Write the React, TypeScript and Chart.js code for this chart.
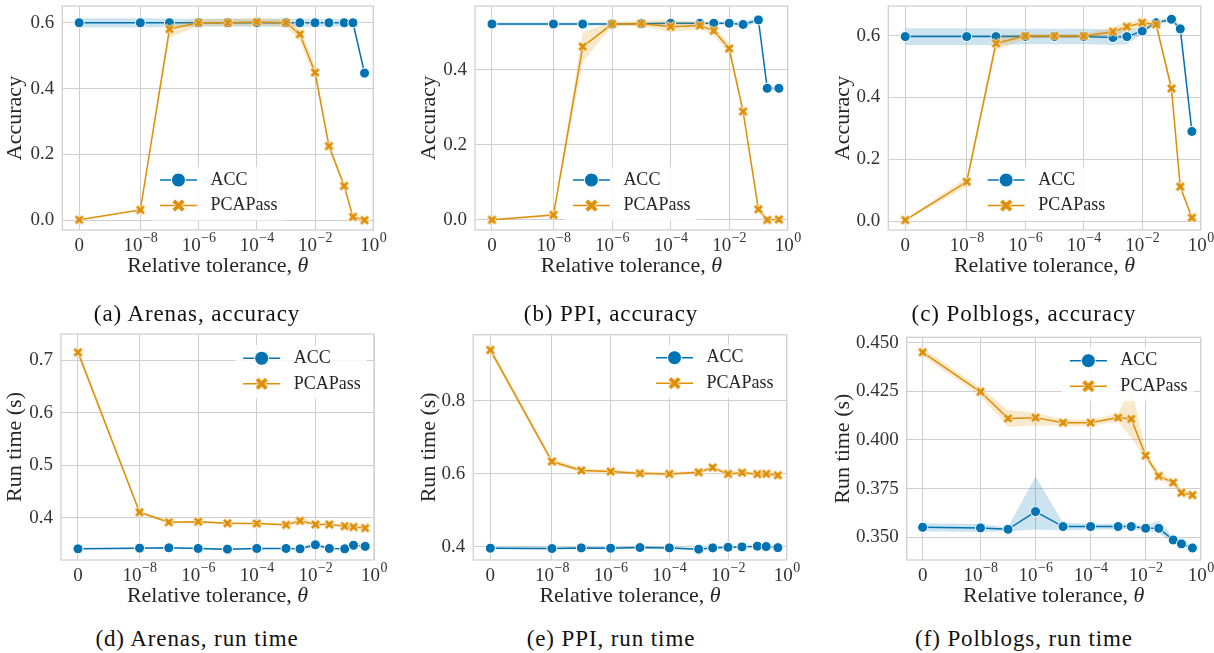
import React, { useEffect, useRef } from 'react';
import { Chart, registerables } from 'chart.js';

Chart.register(...registerables);

const FONT = "'Liberation Serif', 'Times New Roman', serif";
const BLUE = '#0173b2';
const ORANGE = '#de8f05';
const BLUE_BAND = 'rgba(1,115,178,0.2)';
const ORANGE_BAND = 'rgba(222,143,5,0.2)';
const GRID = '#cfcfcf';
const TEXT = '#333333';

// ---- categories (relative tolerance) and tick labels ----
const thetas = [0, 1e-8, 1e-7, 1e-6, 1e-5, 1e-4, 1e-3, 3e-3, 1e-2, 3e-2, 1e-1, 2e-1, 5e-1];
const zeroPosition = -10.1; // where "0" sits on the log axis
const xTickValues = [0, 1e-8, 1e-6, 1e-4, 1e-2, 1];
const xTickBase = ['0', '10', '10', '10', '10', '10'];
const xTickExp = ['', '−8', '−6', '−4', '−2', '0'];
const xTitleText = 'Relative tolerance, ';
const xTitleSymbol = 'θ';
const seriesNames = ['ACC', 'PCAPass'];

// ---- (a) Arenas, accuracy ----
const accA = [0.600, 0.600, 0.600, 0.600, 0.600, 0.600, 0.600, 0.600, 0.600, 0.600, 0.600, 0.600, 0.447];
const accALo = [0.586, 0.586, 0.587, 0.588, 0.588, 0.588, 0.588, 0.588, 0.588, 0.588, 0.589, 0.590, 0.444];
const accAHi = [0.614, 0.614, 0.613, 0.612, 0.612, 0.612, 0.612, 0.612, 0.612, 0.612, 0.611, 0.610, 0.450];
const pcaA = [0.001, 0.031, 0.581, 0.600, 0.600, 0.602, 0.600, 0.565, 0.449, 0.225, 0.104, 0.010, 0.000];
const pcaALo = [0.000, 0.028, 0.555, 0.590, 0.590, 0.590, 0.589, 0.545, 0.430, 0.215, 0.098, 0.006, 0.000];
const pcaAHi = [0.002, 0.034, 0.595, 0.611, 0.613, 0.614, 0.612, 0.585, 0.468, 0.236, 0.110, 0.014, 0.001];
const yTicksA = ['0.0', '0.2', '0.4', '0.6'];

// ---- (b) PPI, accuracy ----
const accB = [0.521, 0.521, 0.521, 0.521, 0.522, 0.523, 0.523, 0.523, 0.523, 0.520, 0.532, 0.350, 0.350];
const accBLo = [0.517, 0.517, 0.517, 0.517, 0.518, 0.519, 0.519, 0.519, 0.518, 0.512, 0.526, 0.347, 0.347];
const accBHi = [0.525, 0.525, 0.525, 0.525, 0.526, 0.527, 0.527, 0.527, 0.528, 0.528, 0.538, 0.353, 0.353];
const pcaB = [0.000, 0.013, 0.461, 0.521, 0.522, 0.514, 0.517, 0.503, 0.456, 0.288, 0.028, 0.000, 0.001];
const pcaBLo = [0.000, 0.011, 0.420, 0.515, 0.515, 0.500, 0.508, 0.490, 0.442, 0.280, 0.024, 0.000, 0.000];
const pcaBHi = [0.001, 0.016, 0.500, 0.527, 0.530, 0.532, 0.526, 0.516, 0.470, 0.296, 0.032, 0.001, 0.002];
const yTicksB = ['0.0', '0.2', '0.4'];

// ---- (c) Polblogs, accuracy ----
const accC = [0.597, 0.597, 0.597, 0.597, 0.597, 0.597, 0.594, 0.597, 0.615, 0.642, 0.653, 0.622, 0.290];
const accCLo = [0.570, 0.570, 0.570, 0.572, 0.572, 0.572, 0.570, 0.572, 0.605, 0.633, 0.645, 0.612, 0.285];
const accCHi = [0.624, 0.624, 0.624, 0.622, 0.622, 0.622, 0.620, 0.622, 0.625, 0.651, 0.661, 0.632, 0.295];
const pcaC = [0.003, 0.127, 0.575, 0.599, 0.599, 0.599, 0.613, 0.629, 0.642, 0.636, 0.429, 0.111, 0.011];
const pcaCLo = [0.000, 0.112, 0.552, 0.590, 0.592, 0.592, 0.600, 0.615, 0.630, 0.626, 0.414, 0.103, 0.006];
const pcaCHi = [0.006, 0.142, 0.597, 0.607, 0.606, 0.606, 0.627, 0.643, 0.654, 0.646, 0.444, 0.120, 0.016];
const yTicksC = ['0.0', '0.2', '0.4', '0.6'];

// ---- (d) Arenas, run time ----
const accD = [0.3403, 0.3416, 0.3422, 0.3410, 0.3397, 0.3410, 0.3410, 0.3403, 0.3480, 0.3410, 0.3403, 0.3470, 0.3450];
const accDLo = [0.3388, 0.3401, 0.3407, 0.3395, 0.3382, 0.3395, 0.3395, 0.3388, 0.3420, 0.3395, 0.3388, 0.3430, 0.3435];
const accDHi = [0.3418, 0.3431, 0.3437, 0.3425, 0.3412, 0.3425, 0.3425, 0.3418, 0.3550, 0.3425, 0.3418, 0.3510, 0.3465];
const pcaD = [0.715, 0.410, 0.391, 0.392, 0.389, 0.3886, 0.386, 0.3937, 0.3867, 0.3867, 0.3835, 0.382, 0.380];
const pcaDLo = [0.707, 0.407, 0.389, 0.390, 0.387, 0.3866, 0.384, 0.387, 0.3847, 0.3850, 0.3820, 0.3805, 0.3785];
const pcaDHi = [0.723, 0.413, 0.393, 0.394, 0.391, 0.3906, 0.388, 0.401, 0.3887, 0.3884, 0.3850, 0.3835, 0.3815];
const yTicksD = ['0.4', '0.5', '0.6', '0.7'];

// ---- (e) PPI, run time ----
const accE = [0.3954, 0.3945, 0.3963, 0.3954, 0.3973, 0.3963, 0.3927, 0.3963, 0.3980, 0.3990, 0.4010, 0.4000, 0.3970];
const accELo = [0.3924, 0.3915, 0.3933, 0.3924, 0.3943, 0.3933, 0.3897, 0.3933, 0.3950, 0.3960, 0.3980, 0.3970, 0.3940];
const accEHi = [0.3984, 0.3975, 0.3993, 0.3984, 0.4003, 0.3993, 0.3957, 0.3993, 0.4010, 0.4020, 0.4040, 0.4030, 0.4000];
const pcaE = [0.940, 0.6335, 0.609, 0.606, 0.601, 0.5996, 0.604, 0.617, 0.5996, 0.603, 0.599, 0.5996, 0.596];
const pcaELo = [0.930, 0.6255, 0.603, 0.601, 0.596, 0.5946, 0.599, 0.610, 0.5946, 0.598, 0.594, 0.5946, 0.591];
const pcaEHi = [0.950, 0.6415, 0.615, 0.611, 0.606, 0.6046, 0.609, 0.624, 0.6046, 0.608, 0.604, 0.6046, 0.601];
const yTicksE = ['0.4', '0.6', '0.8'];

// ---- (f) Polblogs, run time ----
const accF = [0.3551, 0.3548, 0.3541, 0.3632, 0.3555, 0.3555, 0.3555, 0.3555, 0.3546, 0.3546, 0.3486, 0.3466, 0.3445];
const accFLo = [0.3530, 0.3528, 0.3530, 0.3540, 0.3535, 0.3540, 0.3540, 0.3540, 0.3532, 0.3520, 0.3472, 0.3452, 0.3432];
const accFHi = [0.3572, 0.3568, 0.3552, 0.3812, 0.3575, 0.3570, 0.3570, 0.3570, 0.3560, 0.3585, 0.3500, 0.3480, 0.3458];
const pcaF = [0.4451, 0.4248, 0.4111, 0.4115, 0.4089, 0.4089, 0.4115, 0.4108, 0.3920, 0.3815, 0.3781, 0.3729, 0.3717];
const pcaFLo = [0.4430, 0.4225, 0.4068, 0.4075, 0.4072, 0.4072, 0.4095, 0.4010, 0.3900, 0.3795, 0.3765, 0.3712, 0.3702];
const pcaFHi = [0.4472, 0.4270, 0.4154, 0.4140, 0.4106, 0.4106, 0.4135, 0.4280, 0.3940, 0.3835, 0.3797, 0.3746, 0.3732];
const yTicksF = ['0.350', '0.375', '0.400', '0.425', '0.450'];

const toX = (t: number) => (t === 0 ? zeroPosition : Math.log10(t));
const pts = (vals: number[]) => vals.map((v, i) => ({ x: toX(thetas[i]), y: v }));

function makeXMarker(size: number, color: string): HTMLCanvasElement {
  const c = document.createElement('canvas');
  c.width = size;
  c.height = size;
  const ctx = c.getContext('2d') as CanvasRenderingContext2D;
  const s = size / 2;
  const a = s * 0.82;
  const w = s * 0.27;
  ctx.translate(s, s);
  ctx.rotate(Math.PI / 4);
  ctx.beginPath();
  ctx.moveTo(-w, -a); ctx.lineTo(w, -a); ctx.lineTo(w, -w); ctx.lineTo(a, -w);
  ctx.lineTo(a, w); ctx.lineTo(w, w); ctx.lineTo(w, a); ctx.lineTo(-w, a);
  ctx.lineTo(-w, w); ctx.lineTo(-a, w); ctx.lineTo(-a, -w); ctx.lineTo(-w, -w);
  ctx.closePath();
  ctx.fillStyle = color;
  ctx.fill();
  ctx.strokeStyle = '#ffffff';
  ctx.lineWidth = 0.8;
  ctx.stroke();
  return c;
}

type Panel = {
  acc: number[]; accLo: number[]; accHi: number[];
  pca: number[]; pcaLo: number[]; pcaHi: number[];
  yTicks: string[]; yMin: number; yMax: number; yTitle: string;
  L: number; T: number; R: number; B: number; yTitleX: number;
  legendFx: number; legendFy: number;
  caption: string; capX: number; capY: number;
};

const X_MIN = -10.68;
const X_MAX = 0;

const panels: Panel[] = [
  { acc: accA, accLo: accALo, accHi: accAHi, pca: pcaA, pcaLo: pcaALo, pcaHi: pcaAHi,
    yTicks: yTicksA, yMin: -0.030, yMax: 0.651, yTitle: 'Accuracy',
    L: 62.3, T: 6, R: 373.3, B: 230, yTitleX: 15.5, legendFx: 0.314, legendFy: 0.777,
    caption: '(a) Arenas, accuracy', capX: 197, capY: 314 },
  { acc: accB, accLo: accBLo, accHi: accBHi, pca: pcaB, pcaLo: pcaBLo, pcaHi: pcaBHi,
    yTicks: yTicksB, yMin: -0.027, yMax: 0.569, yTitle: 'Accuracy',
    L: 475, T: 6, R: 787.7, B: 230, yTitleX: 429, legendFx: 0.313, legendFy: 0.777,
    caption: '(b) PPI, accuracy', capX: 611, capY: 314 },
  { acc: accC, accLo: accCLo, accHi: accCHi, pca: pcaC, pcaLo: pcaCLo, pcaHi: pcaCHi,
    yTicks: yTicksC, yMin: -0.029, yMax: 0.696, yTitle: 'Accuracy',
    L: 888.3, T: 6, R: 1200.7, B: 230, yTitleX: 843, legendFx: 0.318, legendFy: 0.777,
    caption: '(c) Polblogs, accuracy', capX: 1024, capY: 314 },
  { acc: accD, accLo: accDLo, accHi: accDHi, pca: pcaD, pcaLo: pcaDLo, pcaHi: pcaDHi,
    yTicks: yTicksD, yMin: 0.319, yMax: 0.750, yTitle: 'Run time (s)',
    L: 61, T: 334, R: 374, B: 560, yTitleX: 15.5, legendFx: 0.582, legendFy: 0.1075,
    caption: '(d) Arenas, run time', capX: 197, capY: 639 },
  { acc: accE, accLo: accELo, accHi: accEHi, pca: pcaE, pcaLo: pcaELo, pcaHi: pcaEHi,
    yTicks: yTicksE, yMin: 0.363, yMax: 0.982, yTitle: 'Run time (s)',
    L: 473.3, T: 334.7, R: 786.7, B: 560, yTitleX: 429, legendFx: 0.583, legendFy: 0.102,
    caption: '(e) PPI, run time', capX: 611, capY: 639 },
  { acc: accF, accLo: accFLo, accHi: accFHi, pca: pcaF, pcaLo: pcaFLo, pcaHi: pcaFHi,
    yTicks: yTicksF, yMin: 0.3383, yMax: 0.4528, yTitle: 'Run time (s)',
    L: 906.7, T: 337.3, R: 1200.7, B: 560, yTitleX: 843, legendFx: 0.555, legendFy: 0.105,
    caption: '(f) Polblogs, run time', capX: 1024, capY: 639 },
];

const TITLE_SIZE = 22;
const TICK_SIZE = 19;
const EXP_SIZE = 14;
const LEGEND_SIZE = 18;
const TITLE_HALF = (TITLE_SIZE * 1.2) / 2;
const X_TITLE_OFFSET = 36; // distance from plot bottom to x-title middle
const X_LABEL_OFFSET = 16; // distance from plot bottom to tick-label middle

function PanelChart({ p }: { p: Panel }) {
  const ref = useRef<HTMLCanvasElement>(null);
  const cl = Math.round(p.yTitleX - TITLE_HALF);
  const ct = Math.round(p.T) - 24;
  const cr = Math.round(p.R) + 24;
  const cb = Math.round(p.B + X_TITLE_OFFSET + TITLE_HALF);
  const w = cr - cl;
  const h = cb - ct;

  useEffect(() => {
    const canvas = ref.current;
    if (!canvas) return;
    const xMarker = makeXMarker(13, ORANGE);
    const xMarkerLegend = makeXMarker(17, ORANGE);
    const yVals = p.yTicks.map((s) => parseFloat(s));

    const framePlugin = {
      id: 'frame',
      beforeDatasetsDraw(chart: any) {
        const { ctx, chartArea: a } = chart;
        ctx.save();
        ctx.strokeStyle = GRID;
        ctx.lineWidth = 1.25;
        ctx.strokeRect(a.left, a.top, a.right - a.left, a.bottom - a.top);
        ctx.restore();
      },
    };

    // x tick labels with raised exponents, and x title with italic theta
    const xLabelPlugin = {
      id: 'xLabels',
      afterDraw(chart: any) {
        const { ctx, chartArea: a, scales } = chart;
        const xs = scales.x;
        ctx.save();
        ctx.textBaseline = 'middle';
        ctx.textAlign = 'left';
        ctx.fillStyle = TEXT;
        const y = a.bottom + X_LABEL_OFFSET;
        xTickValues.forEach((v, i) => {
          const px = xs.getPixelForValue(toX(v));
          const base = xTickBase[i];
          const exp = xTickExp[i];
          ctx.font = `${TICK_SIZE}px ${FONT}`;
          const bw = ctx.measureText(base).width;
          ctx.font = `${EXP_SIZE}px ${FONT}`;
          const ew = exp ? ctx.measureText(exp).width : 0;
          const x0 = px - (bw + ew) / 2;
          ctx.font = `${TICK_SIZE}px ${FONT}`;
          ctx.fillText(base, x0, y);
          if (exp) {
            ctx.font = `${EXP_SIZE}px ${FONT}`;
            ctx.fillText(exp, x0 + bw + 0.5, y - 7.5);
          }
        });
        // title
        ctx.fillStyle = '#262626';
        const ty = a.bottom + X_TITLE_OFFSET;
        ctx.font = `${TITLE_SIZE}px ${FONT}`;
        const w1 = ctx.measureText(xTitleText).width;
        ctx.font = `italic ${TITLE_SIZE}px ${FONT}`;
        const w2 = ctx.measureText(xTitleSymbol).width;
        const tx = (a.left + a.right) / 2 - (w1 + w2) / 2;
        ctx.font = `${TITLE_SIZE}px ${FONT}`;
        ctx.fillText(xTitleText, tx, ty);
        ctx.font = `italic ${TITLE_SIZE}px ${FONT}`;
        ctx.fillText(xTitleSymbol, tx + w1, ty);
        ctx.restore();
      },
    };

    const legendPlugin = {
      id: 'panelLegend',
      afterDraw(chart: any) {
        const { ctx, chartArea: a } = chart;
        const sx = a.left + p.legendFx * (a.right - a.left);
        const y1 = a.top + p.legendFy * (a.bottom - a.top);
        const gap = 25.5;
        ctx.save();
        ctx.font = `${LEGEND_SIZE}px ${FONT}`;
        const tw = Math.max(...seriesNames.map((n) => ctx.measureText(n).width));
        ctx.fillStyle = 'rgba(255,255,255,0.85)';
        ctx.fillRect(sx - 8, y1 - 13, 50.5 + tw + 14, gap + 28);
        seriesNames.forEach((name, i) => {
          const y = y1 + i * gap;
          const color = i === 0 ? BLUE : ORANGE;
          ctx.strokeStyle = color;
          ctx.lineWidth = 1.5;
          ctx.beginPath();
          ctx.moveTo(sx, y);
          ctx.lineTo(sx + 37, y);
          ctx.stroke();
          if (i === 0) {
            ctx.beginPath();
            ctx.arc(sx + 18.5, y, 7, 0, Math.PI * 2);
            ctx.fillStyle = BLUE;
            ctx.fill();
            ctx.strokeStyle = '#ffffff';
            ctx.lineWidth = 1;
            ctx.stroke();
          } else {
            ctx.drawImage(xMarkerLegend, sx + 18.5 - xMarkerLegend.width / 2, y - xMarkerLegend.height / 2);
          }
          ctx.fillStyle = '#262626';
          ctx.textBaseline = 'middle';
          ctx.textAlign = 'left';
          ctx.fillText(name, sx + 50.5, y);
        });
        ctx.restore();
      },
    };

    const bandDs = (vals: number[], color: string | null, fillTo: number | false, order: number) => ({
      label: '',
      data: pts(vals),
      borderWidth: 0,
      borderColor: 'rgba(0,0,0,0)',
      pointRadius: 0,
      fill: fillTo,
      backgroundColor: color || 'rgba(0,0,0,0)',
      order,
    });

    const chart = new Chart(canvas, {
      type: 'line',
      data: {
        datasets: [
          bandDs(p.accLo, null, false, 3),
          bandDs(p.accHi, BLUE_BAND, 0, 3),
          {
            label: seriesNames[0], data: pts(p.acc), borderColor: BLUE, borderWidth: 1.5,
            pointStyle: 'circle', pointRadius: 5, pointBackgroundColor: BLUE,
            pointBorderColor: '#ffffff', pointBorderWidth: 1, fill: false, order: 2, clip: false,
          },
          bandDs(p.pcaLo, null, false, 1),
          bandDs(p.pcaHi, ORANGE_BAND, 3, 1),
          {
            label: seriesNames[1], data: pts(p.pca), borderColor: ORANGE, borderWidth: 1.5,
            pointStyle: xMarker, pointRadius: 6, pointBackgroundColor: ORANGE,
            fill: false, order: 0, clip: false,
          },
        ] as any,
      },
      options: {
        animation: false,
        responsive: false,
        events: [],
        layout: { padding: { left: 0, top: p.T - ct, right: cr - p.R, bottom: 0 } },
        plugins: { legend: { display: false }, tooltip: { enabled: false } },
        scales: {
          x: {
            type: 'linear', min: X_MIN, max: X_MAX,
            afterBuildTicks: (s: any) => { s.ticks = xTickValues.map((v) => ({ value: toX(v) })); },
            afterFit: (s: any) => { s.height = cb - p.B; },
            ticks: { display: false, autoSkip: false, maxRotation: 0, minRotation: 0 },
            grid: { color: GRID, lineWidth: 1, drawTicks: false },
            border: { display: false },
            title: { display: false },
          },
          y: {
            type: 'linear', min: p.yMin, max: p.yMax,
            afterBuildTicks: (s: any) => { s.ticks = yVals.map((v) => ({ value: v })); },
            afterFit: (s: any) => { s.width = p.L - cl; },
            ticks: {
              callback: (_v: any, i: number) => p.yTicks[i],
              padding: 8, color: TEXT, font: { family: FONT, size: TICK_SIZE },
            },
            grid: { color: GRID, lineWidth: 1, drawTicks: false },
            border: { display: false },
            title: {
              display: true, text: p.yTitle, color: '#262626', padding: 0,
              font: { family: FONT, size: TITLE_SIZE },
            },
          },
        },
      } as any,
      plugins: [framePlugin, xLabelPlugin, legendPlugin],
    });
    return () => chart.destroy();
  }, []);

  return (
    <canvas
      ref={ref}
      width={w}
      height={h}
      style={{ position: 'absolute', left: cl, top: ct, width: w, height: h }}
    />
  );
}

export default function App() {
  return (
    <div
      style={{
        position: 'absolute', left: 0, top: 0, width: 1214, height: 653,
        background: '#ffffff', overflow: 'hidden', fontFamily: FONT,
      }}
    >
      {panels.map((p, i) => (
        <PanelChart key={i} p={p} />
      ))}
      {panels.map((p, i) => (
        <div
          key={'c' + i}
          style={{
            position: 'absolute', left: p.capX, top: p.capY - 15, height: 30, lineHeight: '30px',
            transform: 'translateX(-50%)', whiteSpace: 'nowrap', fontSize: 23,
            letterSpacing: '0.9px', color: '#111111', fontFamily: FONT,
          }}
        >
          {p.caption}
        </div>
      ))}
    </div>
  );
}
